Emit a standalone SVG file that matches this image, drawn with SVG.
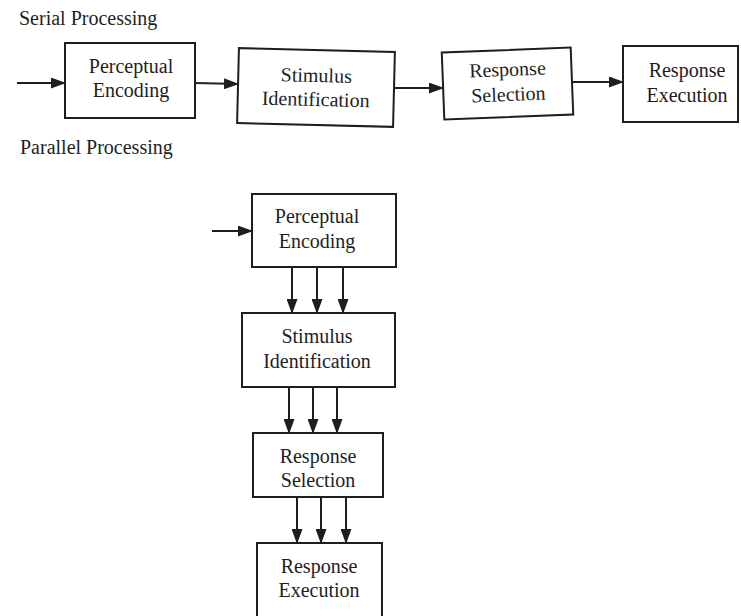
<svg xmlns="http://www.w3.org/2000/svg" width="741" height="616" viewBox="0 0 741 616">
  <defs>
    <marker id="ah" markerWidth="15" markerHeight="11" refX="14" refY="5.5" orient="auto" markerUnits="userSpaceOnUse">
      <path d="M0,0 L15,5.5 L0,11 Z" fill="#1e1e1e"/>
    </marker>
    <style>
      .box { fill: none; stroke: #1e1e1e; stroke-width: 2; }
      .lbl { font-family: "Liberation Serif", "Times New Roman", serif; font-size: 20px; fill: #1e1e1e; text-anchor: middle; }
      .cap { font-family: "Liberation Serif", "Times New Roman", serif; font-size: 20px; fill: #1e1e1e; }
      .conn { stroke: #1e1e1e; stroke-width: 2; fill: none; marker-end: url(#ah); }
    </style>
  </defs>
  <rect width="741" height="616" fill="#ffffff"/>

  <text class="cap" x="19" y="25">Serial Processing</text>
  <text class="cap" x="20" y="154">Parallel Processing</text>

  <!-- Serial row -->
  <g id="serial-perceptual-encoding">
    <rect class="box" x="65" y="43" width="130" height="75"/>
    <text class="lbl" x="131" y="73">Perceptual</text>
    <text class="lbl" x="131" y="97">Encoding</text>
  </g>
  <g id="serial-stimulus-identification" transform="rotate(1.4 316 87.5)">
    <rect class="box" x="238" y="50" width="156" height="75"/>
    <text class="lbl" x="316" y="82">Stimulus</text>
    <text class="lbl" x="316" y="106">Identification</text>
  </g>
  <g id="serial-response-selection" transform="rotate(-2.2 507.5 83.5)">
    <rect class="box" x="443" y="50" width="129" height="67"/>
    <text class="lbl" x="508" y="76">Response</text>
    <text class="lbl" x="508" y="101">Selection</text>
  </g>
  <g id="serial-response-execution">
    <rect class="box" x="623" y="46" width="115" height="76"/>
    <text class="lbl" x="687" y="77">Response</text>
    <text class="lbl" x="687" y="102">Execution</text>
  </g>

  <!-- Parallel column -->
  <g id="parallel-perceptual-encoding">
    <rect class="box" x="252" y="194" width="144" height="73"/>
    <text class="lbl" x="317" y="223">Perceptual</text>
    <text class="lbl" x="317" y="248">Encoding</text>
  </g>
  <g id="parallel-stimulus-identification">
    <rect class="box" x="242" y="313" width="153" height="74"/>
    <text class="lbl" x="317" y="343">Stimulus</text>
    <text class="lbl" x="317" y="368">Identification</text>
  </g>
  <g id="parallel-response-selection">
    <rect class="box" x="253" y="433" width="130" height="64"/>
    <text class="lbl" x="318" y="463">Response</text>
    <text class="lbl" x="318" y="487">Selection</text>
  </g>
  <g id="parallel-response-execution">
    <rect class="box" x="257" y="543" width="125" height="80"/>
    <text class="lbl" x="319" y="573">Response</text>
    <text class="lbl" x="319" y="597">Execution</text>
  </g>

  <g id="connectors">
    <line class="conn" x1="17" y1="83" x2="65" y2="83"/>
    <line class="conn" x1="195" y1="83" x2="238" y2="84"/>
    <line class="conn" x1="394" y1="88" x2="443" y2="88"/>
    <line class="conn" x1="572" y1="82" x2="623" y2="82"/>

    <line class="conn" x1="212" y1="231" x2="252" y2="231"/>

    <line class="conn" x1="292" y1="267" x2="292" y2="313"/>
    <line class="conn" x1="317" y1="267" x2="317" y2="313"/>
    <line class="conn" x1="343" y1="267" x2="343" y2="313"/>

    <line class="conn" x1="289" y1="387" x2="289" y2="433"/>
    <line class="conn" x1="313" y1="387" x2="313" y2="433"/>
    <line class="conn" x1="337" y1="387" x2="337" y2="433"/>

    <line class="conn" x1="297" y1="497" x2="297" y2="543"/>
    <line class="conn" x1="321" y1="497" x2="321" y2="543"/>
    <line class="conn" x1="346" y1="497" x2="346" y2="543"/>
  </g>
</svg>
